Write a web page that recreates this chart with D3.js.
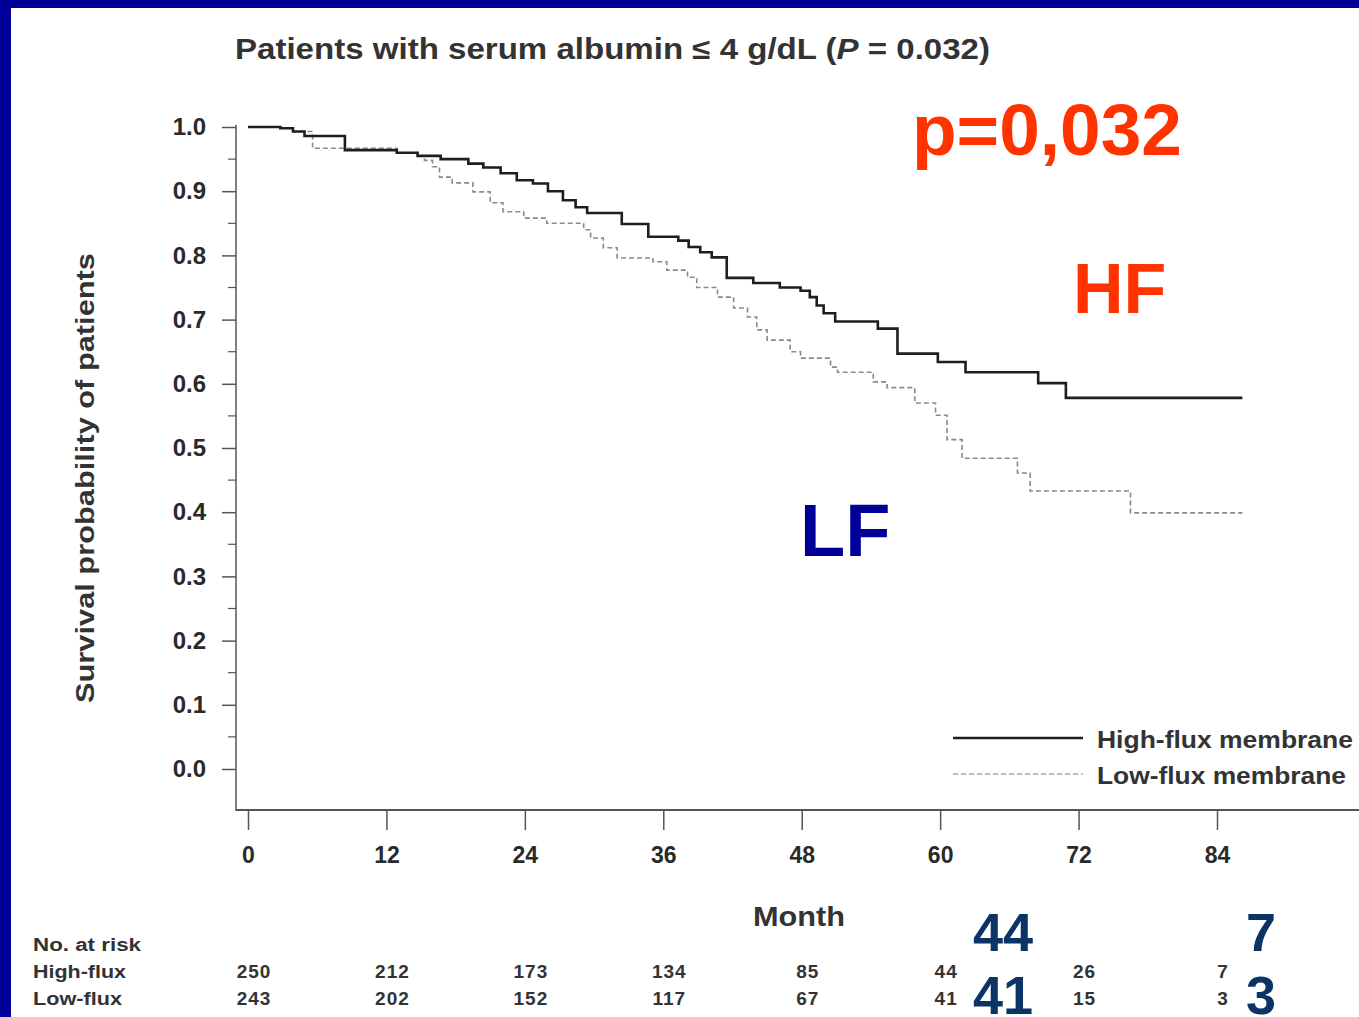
<!DOCTYPE html>
<html>
<head>
<meta charset="utf-8">
<script src="https://cdn.jsdelivr.net/npm/d3@7/dist/d3.min.js"></script>
<style>
  html, body { margin: 0; padding: 0; background: #fff; }
  svg { display: block; }
  text { font-family: "Liberation Sans", Arial, sans-serif; }
</style>
</head>
<body>
<svg id="chart" width="1359" height="1017"></svg>
<script>
// Kaplan-Meier step points (month, survival after the drop)
const hfTimes = [0, 2.8, 3.9, 4.9, 8.4, 12.9, 14.7, 16.7, 19.1, 20.4, 21.9, 23.3, 24.7, 26.0, 27.3, 28.4, 29.4, 32.4, 34.7, 37.3, 38.2, 39.2, 40.2, 41.5, 43.8, 46.1, 47.9, 48.7, 49.3, 49.9, 50.9, 54.6, 56.3, 59.8, 62.2, 68.5, 70.9, 86.2];
const hfSurv  = [1.0, 0.998, 0.993, 0.986, 0.964, 0.960, 0.955, 0.950, 0.943, 0.937, 0.928, 0.917, 0.912, 0.900, 0.886, 0.875, 0.866, 0.849, 0.829, 0.823, 0.813, 0.805, 0.797, 0.765, 0.757, 0.750, 0.745, 0.735, 0.722, 0.710, 0.697, 0.686, 0.647, 0.634, 0.618, 0.601, 0.578, 0.578];

const lfTimes = [0, 2.8, 3.9, 5.6, 12.9, 14.7, 15.3, 16.0, 16.6, 17.7, 19.5, 21.0, 22.1, 23.9, 25.9, 29.1, 29.7, 30.8, 32.0, 35.1, 36.3, 38.1, 38.9, 40.7, 42.1, 43.3, 44.1, 45.0, 47.0, 47.9, 50.5, 51.1, 54.2, 55.4, 57.8, 59.6, 60.6, 61.9, 66.7, 67.8, 76.5, 86.2];
const lfSurv  = [1.0, 0.998, 0.993, 0.967, 0.960, 0.955, 0.948, 0.938, 0.922, 0.913, 0.899, 0.882, 0.868, 0.858, 0.850, 0.840, 0.827, 0.812, 0.796, 0.790, 0.777, 0.766, 0.750, 0.735, 0.718, 0.704, 0.684, 0.668, 0.650, 0.640, 0.626, 0.618, 0.603, 0.594, 0.570, 0.551, 0.513, 0.484, 0.461, 0.433, 0.399, 0.399];

// Axis ticks
const xTicks = [0, 12, 24, 36, 48, 60, 72, 84];
const yTicks = [0.0, 0.1, 0.2, 0.3, 0.4, 0.5, 0.6, 0.7, 0.8, 0.9, 1.0];

// Numbers at risk at each x tick
const riskHigh = [250, 212, 173, 134, 85, 44, 26, 7];
const riskLow  = [243, 202, 152, 117, 67, 41, 15, 3];

const seriesNames = ["High-flux membrane", "Low-flux membrane"];
const riskRowNames = ["High-flux", "Low-flux"];

const svg = d3.select("#chart");

// Blue slide frame (top and left bands)
svg.append("rect").attr("x", 0).attr("y", 0).attr("width", 1359).attr("height", 8).attr("fill", "#000099");
svg.append("rect").attr("x", 0).attr("y", 0).attr("width", 11).attr("height", 1017).attr("fill", "#000099");

const x = d3.scaleLinear().domain([0, 84]).range([248, 1217]);
const y = d3.scaleLinear().domain([0, 1]).range([769, 127]);

const axisColor = "#555";
const textColor = "#2a2a2a";

// Title
const title = svg.append("text")
  .attr("x", 235).attr("y", 59)
  .attr("font-size", 29).attr("font-weight", "bold").attr("fill", "#333")
  .attr("textLength", 755).attr("lengthAdjust", "spacingAndGlyphs");
title.append("tspan").text("Patients with serum albumin \u2264 4 g/dL (");
title.append("tspan").attr("font-style", "italic").text("P");
title.append("tspan").text(" = 0.032)");

// Y axis
const yAxis = d3.axisLeft(y)
  .tickValues(yTicks)
  .tickFormat(d3.format(".1f"))
  .tickSize(14)
  .tickPadding(16);
const gy = svg.append("g").attr("transform", "translate(236,0)").call(yAxis);
gy.select(".domain").remove();
gy.selectAll(".tick line").attr("stroke", axisColor).attr("stroke-width", 1.5);
gy.selectAll(".tick text")
  .attr("font-size", 24).attr("font-weight", "bold").attr("fill", textColor)
  .attr("font-family", "'Liberation Sans', Arial, sans-serif");
// minor ticks
const yMinor = d3.range(0.05, 1.0, 0.1);
svg.append("g").selectAll("line").data(yMinor).join("line")
  .attr("x1", 228).attr("x2", 236)
  .attr("y1", d => y(d)).attr("y2", d => y(d))
  .attr("stroke", axisColor).attr("stroke-width", 1.2);
svg.append("line").attr("x1", 236).attr("x2", 236).attr("y1", 125).attr("y2", 811)
  .attr("stroke", axisColor).attr("stroke-width", 1.5);

// X axis
const xAxis = d3.axisBottom(x).tickValues(xTicks).tickSize(20).tickPadding(17);
const gx = svg.append("g").attr("transform", "translate(0,810)").call(xAxis);
gx.select(".domain").remove();
gx.selectAll(".tick line").attr("stroke", axisColor).attr("stroke-width", 1.5);
gx.selectAll(".tick text")
  .attr("font-size", 23).attr("font-weight", "bold").attr("fill", textColor)
  .attr("font-family", "'Liberation Sans', Arial, sans-serif");
svg.append("line").attr("x1", 236).attr("x2", 1359).attr("y1", 810).attr("y2", 810)
  .attr("stroke", axisColor).attr("stroke-width", 2);

// Axis titles
svg.append("text")
  .attr("transform", "translate(94,478) rotate(-90)")
  .attr("text-anchor", "middle")
  .attr("font-size", 25).attr("font-weight", "bold").attr("fill", "#333")
  .attr("textLength", 450).attr("lengthAdjust", "spacingAndGlyphs")
  .text("Survival probability of patients");

svg.append("text")
  .attr("x", 753).attr("y", 926)
  .attr("font-size", 28).attr("font-weight", "bold").attr("fill", "#333")
  .attr("textLength", 92).attr("lengthAdjust", "spacingAndGlyphs")
  .text("Month");

// Survival curves
const line = d3.line()
  .x(d => x(d[0]))
  .y(d => y(d[1]))
  .curve(d3.curveStepAfter);

const hfPts = d3.zip(hfTimes, hfSurv);
const lfPts = d3.zip(lfTimes, lfSurv);

svg.append("path").datum(lfPts)
  .attr("d", line).attr("fill", "none")
  .attr("stroke", "#8a8a8a").attr("stroke-width", 1.6)
  .attr("stroke-dasharray", "5,3");

svg.append("path").datum(hfPts)
  .attr("d", line).attr("fill", "none")
  .attr("stroke", "#1e1e1e").attr("stroke-width", 2.6);

// Legend
const legend = svg.append("g");
legend.append("line").attr("x1", 953).attr("x2", 1083).attr("y1", 738).attr("y2", 738)
  .attr("stroke", "#1e1e1e").attr("stroke-width", 2.6);
legend.append("line").attr("x1", 953).attr("x2", 1083).attr("y1", 774).attr("y2", 774)
  .attr("stroke", "#a8a8a8").attr("stroke-width", 1.6).attr("stroke-dasharray", "5,3");
legend.append("text").attr("x", 1097).attr("y", 748)
  .attr("font-size", 23).attr("font-weight", "bold").attr("fill", "#333")
  .attr("textLength", 256).attr("lengthAdjust", "spacingAndGlyphs")
  .text(seriesNames[0]);
legend.append("text").attr("x", 1097).attr("y", 784)
  .attr("font-size", 23).attr("font-weight", "bold").attr("fill", "#333")
  .attr("textLength", 249).attr("lengthAdjust", "spacingAndGlyphs")
  .text(seriesNames[1]);

// Numbers at risk table
const riskFont = 18;
const rowLabel = (txt, yy, len) => svg.append("text").attr("x", 33).attr("y", yy)
  .attr("font-size", riskFont).attr("font-weight", "bold").attr("fill", "#333")
  .attr("textLength", len).attr("lengthAdjust", "spacingAndGlyphs")
  .text(txt);
rowLabel("No. at risk", 951, 108);
rowLabel(riskRowNames[0], 978, 93);
rowLabel(riskRowNames[1], 1005, 89);

const riskRow = (vals, yy) => svg.append("g").selectAll("text").data(d3.zip(xTicks, vals)).join("text")
  .attr("x", d => x(d[0]) + 6).attr("y", yy)
  .attr("text-anchor", "middle")
  .attr("font-size", riskFont + 1).attr("font-weight", "bold").attr("fill", "#333")
  .attr("letter-spacing", 1)
  .text(d => d[1]);
riskRow(riskHigh, 978);
riskRow(riskLow, 1005);

// Callouts
svg.append("text").attr("x", 912).attr("y", 155)
  .attr("font-size", 73).attr("font-weight", "bold").attr("fill", "#ff3300")
  .text("p=0,032");
svg.append("text").attr("x", 1073).attr("y", 313)
  .attr("font-size", 70).attr("font-weight", "bold").attr("fill", "#ff3300")
  .text("HF");
svg.append("text").attr("x", 800).attr("y", 556)
  .attr("font-size", 74).attr("font-weight", "bold").attr("fill", "#000099")
  .text("LF");

// Enlarged at-risk counts at 60 and 84 months
const callIdx = [5, 7];
const callX = [1003, 1261];
callIdx.forEach((idx, i) => {
  svg.append("text").attr("x", callX[i]).attr("y", 951)
    .attr("text-anchor", "middle")
    .attr("font-size", 54).attr("font-weight", "bold").attr("fill", "#0a3366")
    .text(riskHigh[idx]);
  svg.append("text").attr("x", callX[i]).attr("y", 1014)
    .attr("text-anchor", "middle")
    .attr("font-size", 54).attr("font-weight", "bold").attr("fill", "#0a3366")
    .text(riskLow[idx]);
});
</script>
</body>
</html>
